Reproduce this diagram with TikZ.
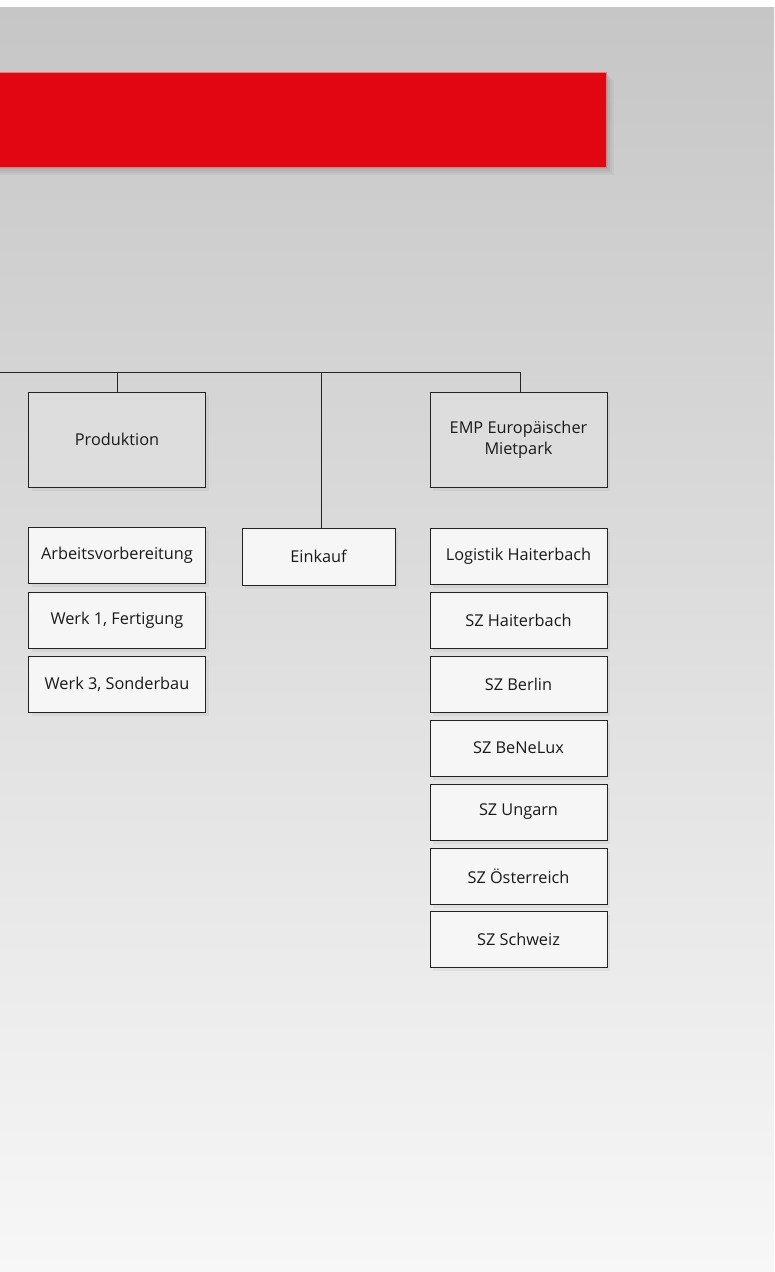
\documentclass[tikz,border=0pt]{standalone}
\usepackage{fontspec}
\setmainfont{Open Sans}
\usetikzlibrary{shadows}
\definecolor{cbgtop}{RGB}{198,198,198}
\definecolor{cbgmid}{RGB}{216,216,216}
\definecolor{cbgbot}{RGB}{247,247,247}
\definecolor{cred}{RGB}{226,6,19}
\definecolor{credrim}{RGB}{240,120,120}
\definecolor{cline}{RGB}{35,35,35}
\definecolor{chead}{RGB}{221,221,221}
\definecolor{cbox}{RGB}{246,246,246}
\definecolor{ctext}{RGB}{25,25,25}
\tikzset{
  orgbase/.style={draw=cline, line width=0.9pt, text=ctext, align=center,
    font=\fontsize{16.3}{21}\selectfont, inner sep=2pt,
    drop shadow={shadow xshift=3pt, shadow yshift=-4pt, opacity=0.10}},
  headbox/.style={orgbase, fill=chead, minimum width=177pt, minimum height=95pt},
  unitbox/.style={orgbase, fill=cbox, minimum width=177pt, minimum height=56pt},
  conn/.style={draw=cline, line width=0.8pt}
}
\begin{document}
\begin{tikzpicture}[x=1pt,y=-1pt]
\useasboundingbox (0,0) rectangle (774,1272);
% background
\fill[white] (0,0) rectangle (774,1272);
\shade[top color=cbgtop, middle color=cbgmid, bottom color=cbgbot] (0,7) rectangle (774,1272);
% red title bar with soft shadow
\foreach \d/\o in {8/0.03,6/0.04,4/0.05,2/0.06}
  \fill[black, opacity=\o] (0,72+\d) rectangle (606+\d,167+\d);
\fill[cred, draw=credrim, line width=0.8pt] (-2,72) rectangle (606,167);
% header boxes
\node[headbox] (prod) at (117,439.5) {Produktion};
\node[headbox] (emp) at (518.5,439.5) {EMP Europäischer\\Mietpark};
% left column
\node[unitbox] (arb) at (117,555) {Arbeitsvorbereitung};
\node[unitbox] (werk1) at (117,620) {Werk 1, Fertigung};
\node[unitbox] (werk3) at (117,684) {Werk 3, Sonderbau};
% middle
\node[unitbox, minimum width=153pt, minimum height=57pt] (ein) at (318.5,556.5) {Einkauf};
% right column
\node[unitbox] (log) at (518.5,556) {Logistik Haiterbach};
\node[unitbox] (szh) at (518.5,620) {SZ Haiterbach};
\node[unitbox] (szb) at (518.5,684) {SZ Berlin};
\node[unitbox] (szbnl) at (518.5,748) {SZ BeNeLux};
\node[unitbox] (szu) at (518.5,812) {SZ Ungarn};
\node[unitbox] (szo) at (518.5,876) {SZ Österreich};
\node[unitbox] (szs) at (518.5,939) {SZ Schweiz};
% connectors
\coordinate (hl) at (-1,372);
\coordinate (hr) at (520,372);
\draw[conn] (hl) -- (hr);
\draw[conn] (hr) -- (hr |- emp.north);
\draw[conn] (prod.north) -- (prod.north |- hl);
\draw[conn] (ein.north) ++(2.5,0) coordinate (einTop) -- (einTop |- hl);
\end{tikzpicture}
\end{document}
